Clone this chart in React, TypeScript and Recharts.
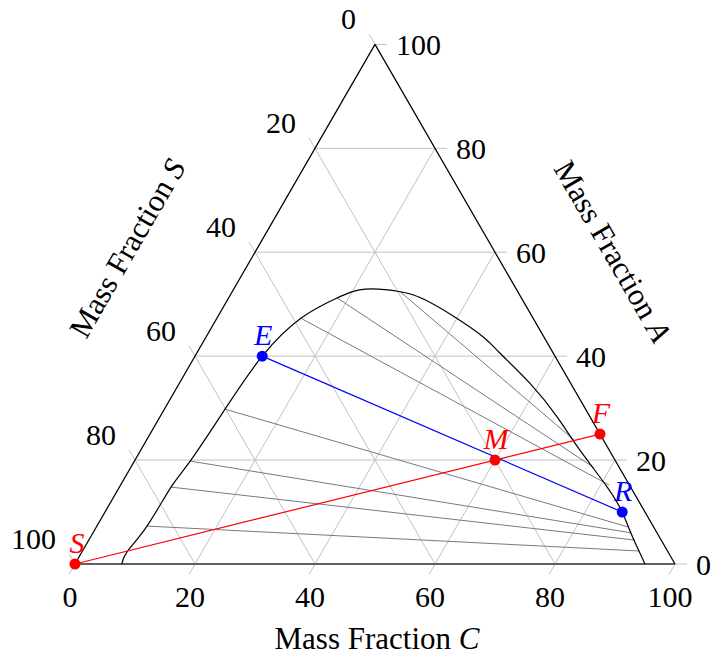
import React from 'react';
import { ComposedChart, Line, Scatter, XAxis, YAxis } from 'recharts';

// ternary axes: C along the bottom, A on the right side, S on the left side (mass %)
const tickValues = [0, 20, 40, 60, 80, 100];

const curveC = [7.8, 7.5, 8.35, 8.6, 9.3, 10.1, 11.2, 14.0, 18.1, 21.9, 28.0, 32.8, 39.6, 46.2, 50.5, 58.4, 66.2, 73.2, 81.3, 86.2, 89.2, 93.1, 95.0];
const curveA = [0, 2.3, 7.3, 14.8, 19.8, 29.8, 40, 47.3, 51.2, 52.9, 52.4, 50.9, 47.5, 43.7, 40.6, 34.8, 28.3, 21.9, 14.8, 10.0, 6.5, 2.1, 0];

// tie lines (gray)
const tieLeftC = [8.35, 8.6, 9.3, 10.1, 14.0, 18.1, 28.0];
const tieLeftA = [7.3, 14.8, 19.8, 29.8, 47.3, 51.2, 52.4];
const tieRightC = [92.8, 91.0, 89.7, 88.7, 81.4, 77.3, 71.2];
const tieRightA = [2.5, 4.6, 6.0, 7.1, 15.2, 18.5, 23.9];

// marked points
const redNames = ['S', 'M', 'F'];
const redC = [0, 60, 75];
const redA = [0, 20, 25];
const blueNames = ['E', 'R'];
const blueC = [11.2, 86.2];
const blueA = [40, 10];

const H = Math.sqrt(3) / 2;
const pt = (c: number, a: number) => ({ x: c + a / 2, y: a * H });

const FONT = '"Liberation Serif", "Times New Roman", serif';
const TICK_EXT = 2;

const gridSegs: { x: number; y: number }[][] = [];
tickValues.forEach((t) => {
  gridSegs.push([pt(0, t), pt(100 - t + TICK_EXT, t)]); // constant A
  gridSegs.push([pt(t, -TICK_EXT), pt(t, 100 - t)]); // constant C
  gridSegs.push([pt(-TICK_EXT, 100 - t + TICK_EXT), pt(100 - t, 0)]); // constant S
});

const curveData = curveC.map((c, i) => pt(c, curveA[i]));
const tieData = tieLeftC.map((c, i) => [pt(c, tieLeftA[i]), pt(tieRightC[i], tieRightA[i])]);
const redData = redNames.map((n, i) => ({ ...pt(redC[i], redA[i]), name: n }));
const blueData = blueNames.map((n, i) => ({ ...pt(blueC[i], blueA[i]), name: n }));

const aTicks = tickValues.map((t) => ({ ...pt(100 - t, t), label: String(t) }));
const sTicks = tickValues.map((t) => ({ ...pt(0, 100 - t), label: String(t) }));
const cTicks = tickValues.map((t) => ({ ...pt(t, 0), label: String(t) }));

const lineProps = { dataKey: 'y', dot: false, activeDot: false, isAnimationActive: false, type: 'linear' as const };

const tickShape = (dx: number, dy: number, anchor: 'start' | 'middle' | 'end') => (p: any) => (
  <text x={p.cx + dx} y={p.cy + dy} textAnchor={anchor} fontSize={30} fontFamily={FONT} fill="#000">
    {p.payload.label}
  </text>
);

const pointShape = (color: string) => (p: any) => (
  <g>
    <circle cx={p.cx} cy={p.cy} r={5.5} fill={color} />
    <text x={p.cx + (p.payload.name === 'S' ? 2 : 1)} y={p.cy - 11} textAnchor="middle" fontSize={30} fontStyle="italic" fontFamily={FONT} fill={color}>
      {p.payload.name}
    </text>
  </g>
);

const titleShape = (dx: number, dy: number, angle: number, v: string) => (p: any) => {
  const x = p.cx + dx;
  const y = p.cy + dy;
  return (
    <text x={x} y={y} textAnchor="middle" dominantBaseline="central" fontSize={31} fontFamily={FONT} fill="#000" transform={`rotate(${angle} ${x} ${y})`}>
      Mass Fraction <tspan fontStyle="italic">{v}</tspan>
    </text>
  );
};

export default function App() {
  return (
    <div style={{ position: 'absolute', left: 0, top: 0, background: '#fff' }}>
      <ComposedChart width={711} height={655} margin={{ top: 0, right: 0, bottom: 0, left: 0 }}>
        <XAxis type="number" dataKey="x" domain={[-12.5, 106]} scale="linear" hide />
        <YAxis type="number" dataKey="y" domain={[-91 / 6, 94]} scale="linear" hide />

        {gridSegs.map((seg, i) => (
          <Line key={'g' + i} {...lineProps} data={seg} stroke="#c2c2c2" strokeWidth={1} />
        ))}
        <Line {...lineProps} data={[pt(0, 0), pt(100, 0)]} stroke="#606060" strokeWidth={2} />
        <Line {...lineProps} data={[pt(0, 0), pt(0, 100)]} stroke="#000" strokeWidth={1.2} />
        <Line {...lineProps} data={[pt(100, 0), pt(0, 100)]} stroke="#000" strokeWidth={1.2} />

        {tieData.map((seg, i) => (
          <Line key={'t' + i} {...lineProps} data={seg} stroke="#7a7a7a" strokeWidth={1} />
        ))}
        <Line {...lineProps} type="natural" data={curveData} stroke="#000" strokeWidth={1.2} />

        <Line {...lineProps} data={blueData} stroke="#0000ff" strokeWidth={1.2} />
        <Line {...lineProps} data={[redData[0], redData[2]]} stroke="#ff0000" strokeWidth={1.2} />

        <Scatter data={blueData} isAnimationActive={false} shape={pointShape('#0000ff')} />
        <Scatter data={redData} isAnimationActive={false} shape={pointShape('#ff0000')} />

        <Scatter data={aTicks} isAnimationActive={false} shape={tickShape(21, 11, 'start')} />
        <Scatter data={sTicks} isAnimationActive={false} shape={tickShape(-19, -15, 'end')} />
        <Scatter data={cTicks} isAnimationActive={false} shape={tickShape(-5, 43, 'middle')} />

        <Scatter data={[pt(50, 0)]} isAnimationActive={false} shape={titleShape(2, 74, 0, 'C')} />
        <Scatter data={[pt(0, 50)]} isAnimationActive={false} shape={titleShape(-98, -56, -60, 'S')} />
        <Scatter data={[pt(50, 50)]} isAnimationActive={false} shape={titleShape(88, -53, 60, 'A')} />
      </ComposedChart>
    </div>
  );
}
